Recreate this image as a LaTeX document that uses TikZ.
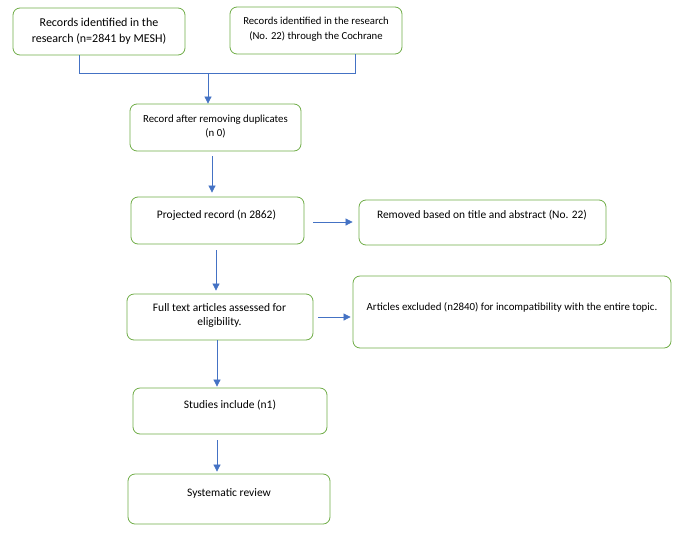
\documentclass[tikz,border=0pt]{standalone}
\usepackage{fontspec}
\setmainfont{Carlito}
\usetikzlibrary{arrows.meta}
\definecolor{boxgreen}{HTML}{70AD47}
\definecolor{arrowblue}{HTML}{4472C4}
\begin{document}
\begin{tikzpicture}[x=1pt,y=-1pt,
 box/.style={draw=boxgreen, line width=0.8pt, rounded corners=7pt, inner sep=0pt},
 txt/.style={inner sep=0pt, align=center, font=\fontsize{11.5}{14}\selectfont, text=black},
 arr/.style={draw=arrowblue, line width=0.7pt, -{Triangle[length=7pt,width=7pt]}},
 ln/.style={draw=arrowblue, line width=0.8pt}]
\fill[white] (0,0) rectangle (679,533);
\useasboundingbox (0,0) rectangle (679,533);
% boxes
\node[box, minimum width=172pt, minimum height=47pt] (A) at (99,31.5) {};
\node[box, minimum width=172pt, minimum height=47pt] (B) at (316,30.5) {};
\node[box, minimum width=171pt, minimum height=47pt] (C) at (215.5,127.5) {};
\node[box, minimum width=173pt, minimum height=47pt] (D) at (217.5,220.5) {};
\node[box, minimum width=247pt, minimum height=45pt] (E) at (482.5,222.5) {};
\node[box, minimum width=186pt, minimum height=46pt] (F) at (220,317) {};
\node[box, minimum width=318pt, minimum height=72pt] (G) at (512,312) {};
\node[box, minimum width=194pt, minimum height=46pt] (H) at (230,411) {};
\node[box, minimum width=202pt, minimum height=50pt] (I) at (229,499) {};
% texts
\node[txt, font=\fontsize{12}{16}\selectfont] (tA) at (99,31.5) {Records identified in the\\research (n=2841 by MESH)};
\node[txt, font=\fontsize{10.7}{15}\selectfont] (tB) at (316,29.5) {Records identified in the research\\(No. 22) through the Cochrane};
\node[txt, font=\fontsize{10.8}{14}\selectfont] (tC) at (215.5,126) {Record after removing duplicates\\(n 0)};
\node[txt] (tD) at (216.5,215) {Projected record (n 2862)};
\node[txt, font=\fontsize{11.4}{14}\selectfont] (tE) at (482,215) {Removed based on title and abstract (No. 22)};
\node[txt] (tF) at (219.5,315) {Full text articles assessed for\\eligibility.};
\node[txt, font=\fontsize{10.9}{14}\selectfont] (tG) at (512,307) {Articles excluded (n2840) for incompatibility with the entire topic.};
\node[txt] (tH) at (230,405) {Studies include (n1)};
\node[txt] (tI) at (229,493) {Systematic review};
% connectors
\coordinate (j) at (208,73);
\draw[ln] ([xshift=-20pt]A.south) -- ++(0,18) -| ([xshift=39pt]B.south);
\draw[arr] (j) -- (C.north -| j);
\draw[arr, shorten <=5pt, shorten >=4pt] (C.south -| 212,0) -- (D.north -| 212,0);
\draw[arr, shorten <=9pt, shorten >=6pt] (D.east |- 0,222) -- (E.west |- 0,222);
\draw[arr, shorten <=6pt, shorten >=3pt] (D.south -| 216,0) -- (F.north -| 216,0);
\draw[arr, shorten <=5pt, shorten >=2pt] (F.east |- 0,317) -- (G.west |- 0,317);
\draw[arr, shorten >=1pt] (F.south -| 217,0) -- (H.north -| 217,0);
\draw[arr, shorten <=6pt, shorten >=2pt] (H.south -| 217,0) -- (I.north -| 217,0);
\end{tikzpicture}
\end{document}
